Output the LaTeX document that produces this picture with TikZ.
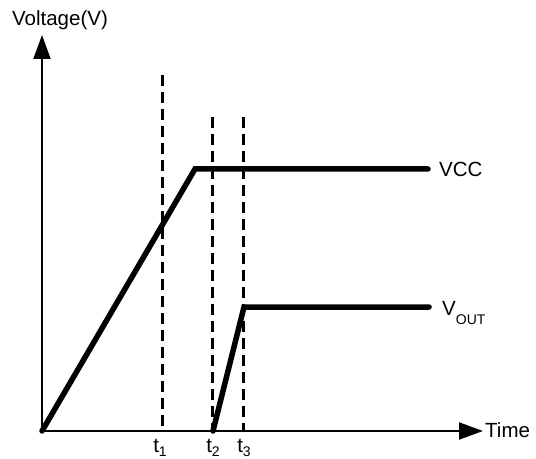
\documentclass[tikz,border=0pt]{standalone}
\usepackage{fontspec}
\setmainfont{Liberation Sans}
\usetikzlibrary{
    arrows.meta,
    positioning
}
\tikzset{
    axis/.style={
        line width=2bp,
        -{Triangle[length=24bp,width=17bp]}
    },
    signal/.style={
        line width=5.5bp,
        line cap=round,
        line join=miter
    },
    marker/.style={
        line width=3bp,
        dash pattern=on 11bp off 6bp
    },
    lbl/.style={
        font=\fontsize{20.5bp}{23bp}\selectfont,
        inner sep=0pt
    }
}
\newcommand{\lowsub}[2][4bp]{\raisebox{-#1}{\fontsize{14bp}{16bp}\selectfont #2}}

\begin{document}
\begin{tikzpicture}[x=1bp, y=-1bp]
    \useasboundingbox (0,0) rectangle (536,459);
    % axes
    \coordinate (O)    at (42,431);
    \coordinate (ytip) at (42,35);
    \coordinate (xtip) at (483,431);
    \draw[axis] (O) -- (ytip);
    \draw[axis] (O) -- (xtip);
    \node[lbl, anchor=base] (vlabel) at (60,26) {Voltage(V)};
    \node[lbl, anchor=base west] (tlabel) at (485,437) {Time};
    % time markers
    \coordinate (t1top) at (162,75);
    \coordinate (t1bot) at (162,431);
    \coordinate (t2top) at (212,117);
    \coordinate (t2bot) at (212,431);
    \coordinate (t3top) at (243,117);
    \coordinate (t3bot) at (243,431);
    \draw[marker] (t1top) -- (t1bot);
    \draw[marker] (t2top) -- (t2bot);
    \draw[marker] (t3top) -- (t3bot);
    \node[lbl, anchor=base] (t1) at (160,452) {t\lowsub{1}};
    \node[lbl, anchor=base] (t2) at (213,452) {t\lowsub{2}};
    \node[lbl, anchor=base] (t3) at (244,452) {t\lowsub{3}};
    % VCC ramp
    \coordinate (vccknee) at (195,169);
    \coordinate (vccend)  at (428,169);
    \draw[signal] (O) -- (vccknee) -- (vccend);
    \node[lbl, anchor=base west] (vcc) at (439,177) {VCC};
    % output ramp
    \coordinate (voutstart) at (213,431);
    \coordinate (voutknee)  at (244,307);
    \coordinate (voutend)   at (429,307);
    \draw[signal] (voutstart) -- (voutknee) -- (voutend);
    \node[lbl, anchor=base west] (vout) at (442,315) {V\lowsub[9bp]{OUT}};
\end{tikzpicture}
\end{document}
